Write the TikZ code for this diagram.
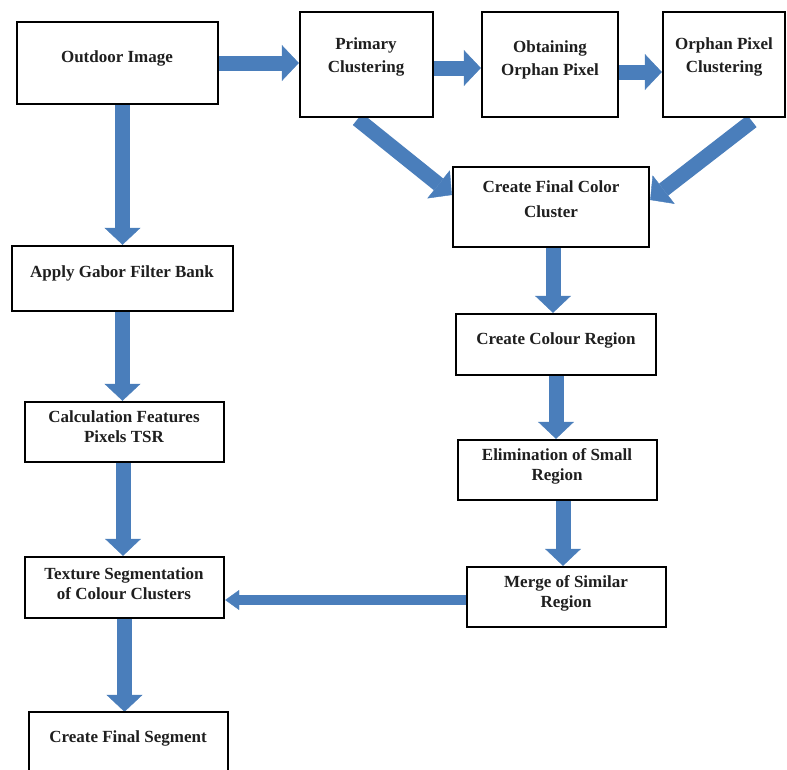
\documentclass[tikz,border=0pt]{standalone}
\usepackage{fontspec}
\setmainfont{Liberation Serif}
\usetikzlibrary{arrows.meta,calc,backgrounds}
\definecolor{arrblue}{HTML}{4A7EBB}
\begin{document}
\begin{tikzpicture}[x=1pt,y=-1pt,
  box/.style={draw=black, line width=2.4pt, fill=white, rectangle, inner sep=0pt},
  openbox/.style={draw=none, fill=white, rectangle, inner sep=0pt},
  boxline/.style={draw=black, line width=2.4pt},
  txt/.style={font=\fontsize{17}{23}\selectfont\bfseries, align=center, inner sep=0pt, text=black!88},
  txtb/.style={txt, font=\fontsize{17}{20}\selectfont\bfseries},
  bigarrow/.style={draw=arrblue, line width=15pt, -{Triangle[width=36pt,length=17pt,line width=0.4pt]}},
  smallarrow/.style={draw=arrblue, line width=10pt, -{Triangle[width=20pt,length=14pt,line width=0.4pt]}},
]
\useasboundingbox (0,0) rectangle (787,769);

% boxes
\node[box, minimum width=201pt, minimum height=82pt]  (outdoor)   at (117.5,63)   {};
\node[box, minimum width=133pt, minimum height=105pt] (primary)   at (366.5,64.5) {};
\node[box, minimum width=136pt, minimum height=105pt] (obtaining) at (550,64.5)   {};
\node[box, minimum width=122pt, minimum height=105pt] (orphan)    at (724,64.5)   {};
\node[box, minimum width=196pt, minimum height=80pt]  (cfc)       at (551,207)    {};
\node[box, minimum width=221pt, minimum height=65pt]  (gabor)     at (122.5,278.5){};
\node[box, minimum width=199pt, minimum height=60pt]  (calc)      at (124.5,432)  {};
\node[box, minimum width=200pt, minimum height=61pt]  (ccr)       at (556,344.5)  {};
\node[box, minimum width=199pt, minimum height=60pt]  (elim)      at (557.5,470)  {};
\node[box, minimum width=199pt, minimum height=60pt]  (merge)     at (566.5,597)  {};
\node[box, minimum width=199pt, minimum height=61pt]  (texture)   at (124.5,587.5){};
\node[openbox, minimum width=199pt, minimum height=68pt] (final)  at (128.5,746)  {};
\draw[boxline] (final.south west) |- (final.north east) -- (final.south east);

% texts
\node[txt]  (t-outdoor)   at (117,58)  {Outdoor Image};
\node[txt]  (t-primary)   at (366,57)  {Primary\\Clustering};
\node[txt]  (t-obtaining) at (550,60)  {Obtaining\\Orphan Pixel};
\node[txt]  (t-orphan)    at (724,57)  {Orphan Pixel\\Clustering};
\node[txt, font=\fontsize{17}{25}\selectfont\bfseries] (t-cfc) at (551,199) {Create Final Color\\Cluster};
\node[txt]  (t-gabor)     at (122,273) {Apply Gabor Filter Bank};
\node[txtb] (t-calc)      at (124,427) {Calculation Features\\Pixels TSR};
\node[txt]  (t-ccr)       at (556,340) {Create Colour Region};
\node[txtb] (t-elim)      at (557,466) {Elimination of Small\\Region};
\node[txtb] (t-merge)     at (566,593) {Merge of Similar\\Region};
\node[txtb] (t-texture)   at (124,584) {Texture Segmentation\\of Colour Clusters};
\node[txt]  (t-final)     at (128,738) {Create Final Segment};

% arrows
\begin{scope}[on background layer]
\draw[bigarrow] (gabor.north |- outdoor.south) -- (gabor.north);
\draw[bigarrow] (outdoor.east) -- (primary.west |- outdoor.east);
\draw[bigarrow] ($(primary.east)+(0,3.5)$) -- ($(obtaining.west)+(0,3.5)$);
\draw[bigarrow] ($(obtaining.east)+(0,7.5)$) -- ($(orphan.west)+(0,7.5)$);
\draw[bigarrow] ($(primary.south)+(-9,1)$) -- ($(cfc.west)+(0,-12)$);
\draw[bigarrow] ($(orphan.south)+(28,3)$) -- ($(cfc.east)+(0,-7)$);
\draw[bigarrow] ($(cfc.south)+(2,0)$) -- ($(ccr.north)+(-3,0)$);
\draw[bigarrow] (ccr.south) -- (ccr.south |- elim.north);
\draw[bigarrow] ($(elim.south)+(5.5,0)$) -- ($(merge.north)+(-3.5,0)$);
\draw[bigarrow] (gabor.south) -- (gabor.south |- calc.north);
\draw[bigarrow] ($(calc.south)+(-1.5,0)$) -- ($(texture.north)+(-1.5,0)$);
\draw[smallarrow] ($(merge.west)+(0,3)$) -- ($(texture.east |- merge.west)+(0,3)$);
\draw[bigarrow] (texture.south) -- (texture.south |- final.north);
\end{scope}
\end{tikzpicture}
\end{document}
